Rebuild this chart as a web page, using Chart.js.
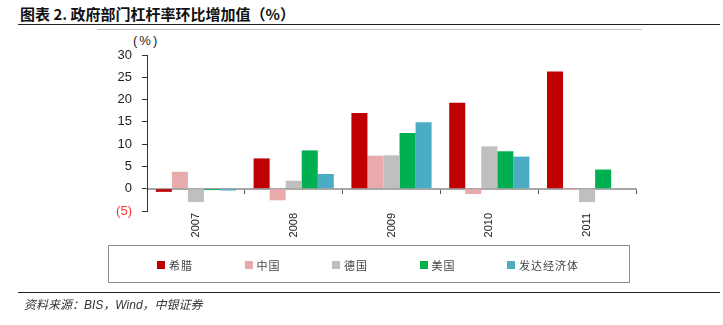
<!DOCTYPE html>
<html>
<head>
<meta charset="utf-8">
<script src="https://cdn.jsdelivr.net/npm/chart.js@4/dist/chart.umd.min.js"></script>
<style>
    body { margin: 0; background: #fff; }
    #page { position: relative; width: 723px; height: 325px; overflow: hidden; font-family: "Liberation Sans", Arial, sans-serif; }
    #title { position: absolute; left: 20px; top: 3px; font-family: "Noto Sans CJK SC", sans-serif; font-weight: 700; font-size: 15px; color: #111; white-space: nowrap; }
    .rule { position: absolute; left: 18px; width: 702px; height: 0; border-top: 1.5px solid #222; }
    #frameTop { position: absolute; left: 97px; top: 29px; width: 545px; border-top: 1px solid #c4c4c4; }
    #unit { position: absolute; left: 133px; top: 33px; font-size: 13px; letter-spacing: 2px; color: #222; }
    #chartBox { position: absolute; left: 0; top: 0; width: 723px; height: 325px; }
    #legend { position: absolute; left: 108px; top: 245px; width: 520px; height: 36px; border: 1.5px solid #8c8c8c; }
    .item { position: absolute; top: 11px; display: flex; align-items: center; font-family: "Noto Sans CJK SC", sans-serif; font-size: 11px; letter-spacing: 1px; color: #444; }
    .swatch { width: 8px; height: 8px; margin-right: 4px; }
    #source { position: absolute; left: 24px; top: 295px; font-size: 12px; font-style: italic; color: #333; font-family: "Liberation Sans", "Noto Sans CJK SC", sans-serif; }
</style>
</head>
<body>
<div id="page">
    <div id="title">图表 2. 政府部门杠杆率环比增加值（%）</div>
    <div class="rule" style="top: 24px"></div>
    <div id="frameTop"></div>
    <div id="unit">(%)</div>
    <div id="chartBox"><canvas id="leverageChart"></canvas></div>
    <div id="legend"></div>
    <div class="rule" style="top: 292px"></div>
    <div id="source">资料来源：BIS，Wind，中银证券</div>
</div>
<script>
const years = ["2007", "2008", "2009", "2010", "2011"]
const seriesNames = ["希腊", "中国", "德国", "美国", "发达经济体"]
const colors = ["#C00000", "#E8AAAA", "#BFBFBF", "#00B050", "#4BACC6"]

// quarter-on-quarter change in government leverage, percentage points
const greece = [-0.7, 6.8, 17.0, 19.3, 26.3]
const china = [3.8, -2.6, 7.4, -1.2, -0.3]
const germany = [-3.0, 1.8, 7.5, 9.5, -3.0]
const usa = [-0.3, 8.6, 12.5, 8.4, 4.3]
const advanced = [-0.4, 3.3, 14.9, 7.2, -0.1]

const yTicks = [-5, 0, 5, 10, 15, 20, 25, 30]

const seriesValues = [greece, china, germany, usa, advanced]

const datasets = seriesNames.map((name, i) => {
    return {
        label: name,
        data: seriesValues[i],
        backgroundColor: colors[i],
        borderWidth: 0,
        categoryPercentage: 0.82,
        barPercentage: 1.0
    }
})

// legend built from the datasets
const legendEl = document.getElementById("legend")
datasets.forEach((ds, i) => {
    const item = document.createElement("div")
    item.className = "item"
    item.style.left = (48 + i * 87.5) + "px"
    item.innerHTML = "<span class='swatch' style='background:" + ds.backgroundColor + "'></span>" + ds.label
    legendEl.appendChild(item)
})

const ctx = document.getElementById("leverageChart").getContext("2d")

new Chart(ctx, {
    type: "bar",
    data: { labels: years, datasets: datasets },
    options: {
        responsive: true,
        maintainAspectRatio: false,
        animation: false,
        layout: { padding: { left: 100, right: 87, top: 55, bottom: 74 } },
        plugins: {
            legend: { display: false },
            tooltip: { enabled: false }
        },
        scales: {
            x: {
                type: "category",
                grid: { display: false },
                border: { display: false },
                ticks: {
                    minRotation: 90,
                    maxRotation: 90,
                    padding: -6,
                    color: "#222",
                    font: { family: "Liberation Sans", size: 11 }
                },
                afterFit: (scale) => { scale.height = 40 }
            },
            // category axis sitting on the zero line
            xZero: {
                type: "category",
                axis: "x",
                position: { y: 0 },
                offset: true,
                grid: {
                    display: true,
                    offset: true,
                    drawOnChartArea: false,
                    drawTicks: true,
                    tickLength: 4,
                    color: "#555",
                    lineWidth: 1
                },
                border: { display: true, color: "#A6A6A6", width: 2 },
                ticks: { display: false }
            },
            y: {
                min: -5,
                max: 30,
                afterBuildTicks: (scale) => { scale.ticks = yTicks.map(v => ({ value: v })) },
                grid: {
                    drawOnChartArea: false,
                    drawTicks: true,
                    tickLength: 5,
                    color: "#333"
                },
                border: { display: true, color: "#333", width: 1 },
                ticks: {
                    padding: 10,
                    color: (c) => c.tick.value < 0 ? "#FF3333" : "#222",
                    font: { family: "Liberation Sans", size: 13 },
                    callback: (value) => value < 0 ? "(" + Math.abs(value) + ")" : value
                },
                afterFit: (scale) => { scale.width = 47 }
            }
        }
    }
})
</script>
</body>
</html>
